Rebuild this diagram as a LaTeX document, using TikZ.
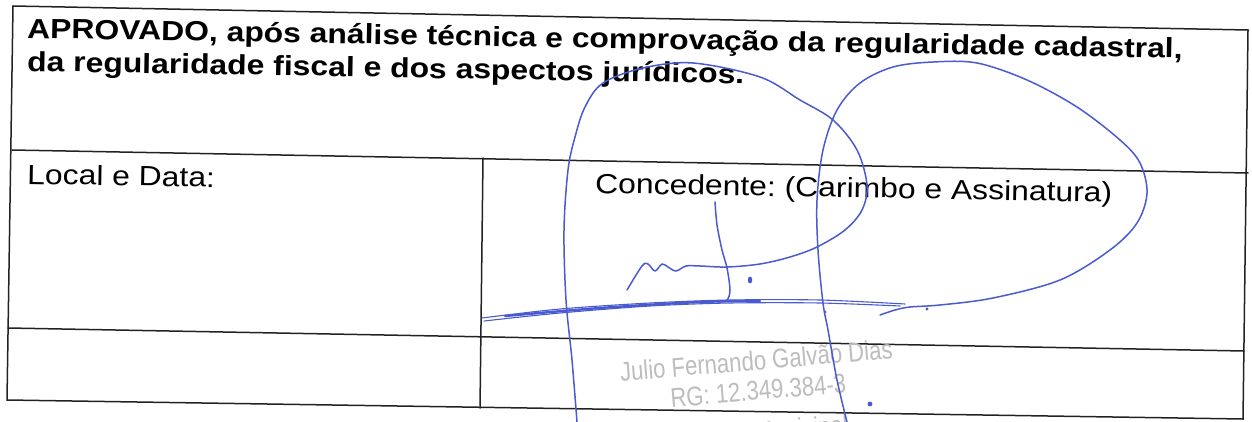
\documentclass[tikz,border=0pt]{standalone}
\usepackage{fontspec}
\setmainfont{Liberation Sans}
\newfontfamily\scanfont{Liberation Sans}[FakeStretch=1.15]
\frenchspacing
\definecolor{inkblue}{HTML}{4A5BD0}
\definecolor{rulec}{HTML}{222222}
\definecolor{stampc}{HTML}{BDBDBD}
\begin{document}
\begin{tikzpicture}[x=1pt,y=-1pt,
  rule/.style={line width=1.5pt, draw=rulec, line cap=round},
  ink/.style={draw=inkblue, line width=1.5pt, line cap=round, line join=round},
  inkthin/.style={draw=inkblue, line width=1.1pt, line cap=round},
  hdr/.style={anchor=base west, inner sep=0pt, rotate=-1.0, text=black, font=\scanfont\fontsize{27.7}{32}\selectfont\bfseries},
  lbl/.style={anchor=base west, inner sep=0pt, rotate=-1.0, text=black, font=\scanfont\fontsize{27.7}{32}\selectfont},
  stamptxt/.style={anchor=base, inner sep=0pt, rotate=4.8, text=stampc, font=\fontsize{27}{27}\selectfont}]
\useasboundingbox (0,0) rectangle (1252,422);
\clip (0,0) rectangle (1252,422);
\fill[white] (0,0) rectangle (1252,422);

% table corners
\coordinate (tl) at (13,6);
\coordinate (tr) at (1248,30);
\coordinate (bl) at (7,400);
\coordinate (br) at (1243,419);
\coordinate (r1l) at (12,150);
\coordinate (r1r) at (1248,173);
\coordinate (r2l) at (8,328);
\coordinate (r2r) at (1244,351);
\coordinate (mt) at (483,158);
\coordinate (mb) at (480,408);

\draw[rule] (tl) -- (tr) -- (br) -- (bl) -- cycle;
\draw[rule] (r1l) -- (r1r);
\draw[rule] (r2l) -- (r2r);
\draw[rule] (mt) -- (mb);

% texts
\node[hdr] (h1) at (27,38) {APROVADO, após análise técnica e comprovação da regularidade cadastral,};
\node[hdr] (h2) at (27,71) {da regularidade fiscal e dos aspectos jurídicos.};
\node[lbl] (loc) at (27,184) {Local e Data:};
\node[lbl] (conc) at (595,193) {Concedente: (Carimbo e Assinatura)};

% stamp
\node[stamptxt] (s1) at (757,370) {\scalebox{0.82}[1]{Julio Fernando Galvão Dias}};
\node[stamptxt] (s2) at (759,400) {\scalebox{0.82}[1]{RG: 12.349.384-3}};
\node[stamptxt] (s3) at (761,441) {\scalebox{0.82}[1]{Prefeito Municipal}};

% signature: left loop with squiggle
\draw[ink] plot[smooth, tension=0.55] coordinates {
  (577,422) (572,360) (566,300) (564,230) (568,170) (575,137) (585,107)
  (603,83) (643,68) (693,63) (760,77) (800,100) (833,120) (857,150)
  (867,185) (862,210) (845,230) (817,247) (790,257) (760,264) (727,267)
  (700,266) (686,266) (676,271) (668,267) (662,264) (655,271) (648,264)
  (642,266) (627,290)};
% j stem
\draw[ink] plot[smooth, tension=0.5] coordinates {
  (715,202) (717,225) (722,250) (727,268) (730,290) (727,300) (718,302)};
% underline strokes
\draw[inkthin] plot[smooth, tension=0.5] coordinates {
  (482,318) (560,309) (650,303) (730,300) (820,300) (905,304)};
\draw[inkthin] plot[smooth, tension=0.5] coordinates {
  (484,321) (560,313) (650,306) (730,303) (820,303) (900,306)};
\draw[ink, line width=2.4pt] plot[smooth, tension=0.5] coordinates {
  (505,316) (600,308) (700,302) (760,301)};
% right big loop
\draw[ink] plot[smooth, tension=0.55] coordinates {
  (847,422) (837,380) (828,330) (823,303) (818,250) (817,200) (823,150)
  (837,110) (860,83) (893,67) (933,62) (977,63) (1027,80) (1077,107)
  (1120,140) (1140,163) (1147,193) (1137,223) (1110,250) (1060,280)
  (993,298) (940,305) (910,307) (895,310) (880,315)};
% dots
\fill[inkblue] (750,280) ellipse (2.2 and 3.5);
\fill[inkblue] (825,312) circle (1.5);
\fill[inkblue] (870,404) circle (2.4);
\fill[inkblue] (927,309) circle (1.6);
\end{tikzpicture}
\end{document}
